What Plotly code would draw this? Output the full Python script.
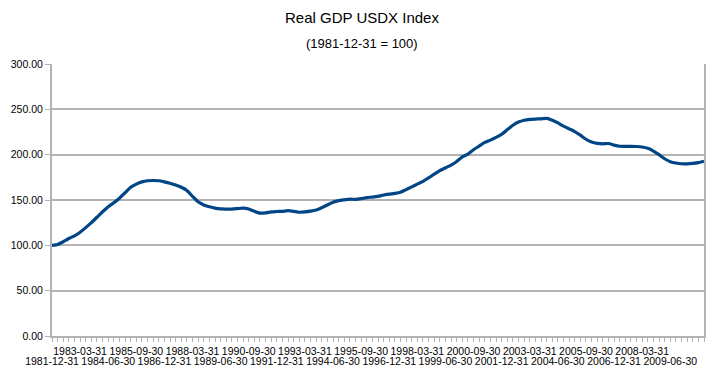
import plotly.graph_objects as go

# Quarter-end dates, 1981-12-31 .. 2010-12-31
quarter_ends = ["03-31", "06-30", "09-30", "12-31"]
dates = ["1981-12-31"] + [f"{y}-{q}" for y in range(1982, 2011) for q in quarter_ends]

index_values = [
    100.0, 101.0, 104.0, 107.5, 110.5, 114.5, 119.5, 125.0, 131.0, 137.0,
    142.5, 147.0, 152.0, 158.0, 164.0, 167.5, 170.0, 171.2, 171.5, 171.2,
    170.0, 168.5, 166.5, 164.0, 160.5, 154.0, 148.0, 144.5, 142.5, 141.0,
    140.2, 140.0, 140.0, 140.5, 141.0, 140.0, 137.5, 135.5, 135.8, 137.0,
    137.3, 137.5, 138.2, 137.5, 136.5, 137.0, 137.8, 139.0, 141.5, 144.5,
    147.5, 149.3, 150.2, 151.0, 150.6, 151.5, 152.7, 153.2, 154.0, 155.5,
    156.5, 157.3, 158.5, 161.5, 164.5, 167.5, 170.5, 174.5, 178.5, 182.4,
    185.5, 188.5, 192.5, 197.5, 200.5, 205.5, 209.5, 213.5, 216.0, 219.0,
    222.5, 227.5, 232.5, 236.0, 238.0, 239.0, 239.3, 239.5, 240.0, 238.0,
    235.0, 231.5, 228.5, 225.5, 221.5, 217.0, 214.0, 212.5, 212.0, 212.3,
    210.5, 209.3, 209.2, 209.2, 209.0, 208.5, 207.0, 204.0, 200.0, 195.5,
    192.3, 190.8, 190.0, 189.8, 190.3, 191.2, 192.8,
]

y_tickvals = [0, 50, 100, 150, 200, 250, 300]
y_ticktext = ["0.00", "50.00", "100.00", "150.00", "200.00", "250.00", "300.00"]

# label every 5th quarter, alternating rows
upper_labels = [dates[i] if (i % 10 == 5 and i <= 110) else "" for i in range(len(dates))]
lower_labels = [dates[i] if (i % 10 == 0 and i <= 110) else "" for i in range(len(dates))]

LINE = "#004586"
GRID = "#b3b3b3"
FONT = "Liberation Sans, Arial, sans-serif"
TICK_SIZE = 10.5

fig = go.Figure()
fig.add_trace(go.Scatter(
    x=dates, y=index_values, mode="lines",
    line=dict(color=LINE, width=3.2, shape="spline", smoothing=0.5),
    showlegend=False, xaxis="x", yaxis="y",
))
fig.add_trace(go.Scatter(
    x=dates, y=index_values, mode="lines",
    line=dict(color="rgba(0,0,0,0)", width=0),
    showlegend=False, hoverinfo="skip", xaxis="x2", yaxis="y",
))

fig.update_layout(
    width=721, height=375,
    margin=dict(l=52, r=17, t=64, b=39, autoexpand=False),
    paper_bgcolor="white", plot_bgcolor="white",
    font=dict(family=FONT, size=11, color="black"),
    xaxis=dict(
        type="category", range=[0, len(dates) - 1],
        tickmode="array", tickvals=dates, ticktext=upper_labels,
        tickangle=0, ticks="outside", ticklen=4, tickcolor=GRID, tickwidth=1,
        showline=True, linecolor=GRID, linewidth=2,
        showgrid=False, zeroline=False, automargin=False,
        tickfont=dict(size=TICK_SIZE, family=FONT, color="black"),
    ),
    xaxis2=dict(
        type="category", range=[0, len(dates) - 1], matches="x",
        overlaying="x", side="bottom",
        tickmode="array", tickvals=dates, ticktext=lower_labels,
        tickangle=0, ticks="", ticklabelstandoff=17,
        showline=False, showgrid=False, zeroline=False, automargin=False,
        tickfont=dict(size=TICK_SIZE, family=FONT, color="black"),
    ),
    yaxis=dict(
        range=[0, 300], tickmode="array", tickvals=y_tickvals, ticktext=y_ticktext,
        ticks="outside", ticklen=5, tickcolor=GRID, tickwidth=1,
        showgrid=True, gridcolor=GRID, gridwidth=1.5,
        showline=True, linecolor=GRID, linewidth=2, mirror=True,
        zeroline=False, automargin=False,
        tickfont=dict(size=TICK_SIZE, family=FONT, color="black"),
    ),
    annotations=[
        dict(text="Real GDP USDX Index", xref="paper", yref="paper",
             x=0.475, y=1.0, yshift=47, xanchor="center", yanchor="middle",
             showarrow=False, font=dict(size=15, family=FONT, color="black")),
        dict(text="(1981-12-31 = 100)", xref="paper", yref="paper",
             x=0.475, y=1.0, yshift=21, xanchor="center", yanchor="middle",
             showarrow=False, font=dict(size=13, family=FONT, color="black")),
    ],
)

fig.write_html("out.html", config={"displayModeBar": False},
               post_script="document.body.style.margin='0px';")
